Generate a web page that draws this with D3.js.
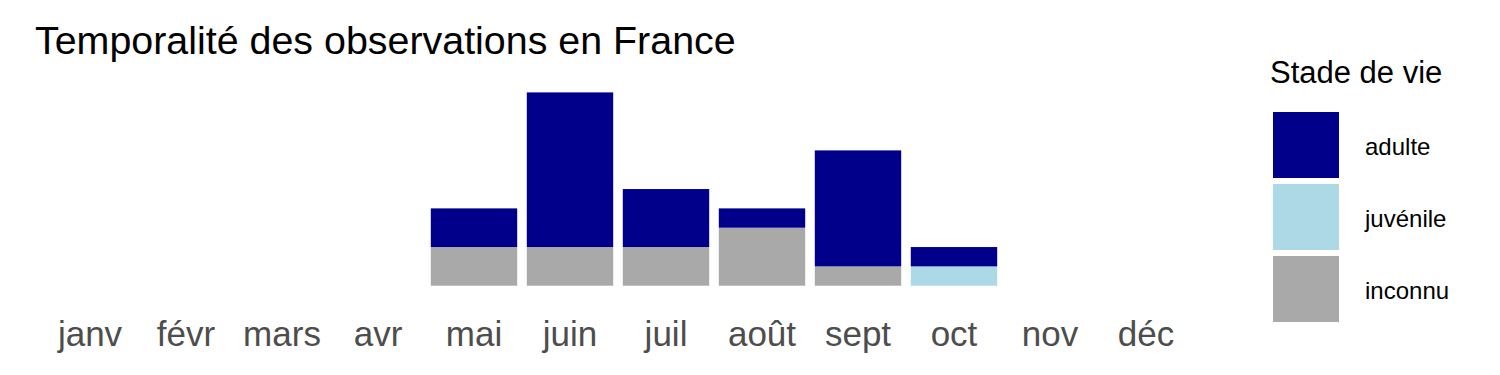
<!DOCTYPE html>
<html>
<head>
<meta charset="utf-8">
<script src="https://cdn.jsdelivr.net/npm/d3@7"></script>
<style>
  body { margin: 0; background: #fff; }
  svg text { font-family: "Liberation Sans", Arial, sans-serif; }
</style>
</head>
<body>
<div id="chart"></div>
<script>
// data
var months = ["janv", "févr", "mars", "avr", "mai", "juin", "juil", "août", "sept", "oct", "nov", "déc"];
var stages = ["adulte", "juvénile", "inconnu"];
var adulte   = [0, 0, 0, 0, 2, 8, 3, 1, 6, 1, 0, 0];
var juvenile = [0, 0, 0, 0, 0, 0, 0, 0, 0, 1, 0, 0];
var inconnu  = [0, 0, 0, 0, 2, 2, 2, 3, 1, 0, 0, 0];
var colors = ["#00008b", "#add8e6", "#a9a9a9"];

var width = 1500, height = 375;

var rows = months.map(function(m, i){
    return {month: m, "adulte": adulte[i], "juvénile": juvenile[i], "inconnu": inconnu[i]};
});

// stack order: inconnu at bottom, then juvénile, then adulte
var stack = d3.stack().keys(stages.slice().reverse());
var series = stack(rows);

var xScale = d3.scaleBand()
    .domain(months)
    .range([42, 1194])
    .paddingInner(0.1)
    .paddingOuter(0.05);

var yScale = d3.scaleLinear()
    .domain([0, 10])
    .range([285.7, 92.4]);

var cScale = d3.scaleOrdinal().domain(stages).range(colors);

var svg = d3.select("#chart").append("svg")
    .attr("width", width)
    .attr("height", height);

svg.append("text")
    .attr("x", 35)
    .attr("y", 54)
    .attr("font-size", "39.4px")
    .attr("fill", "#000")
    .text("Temporalité des observations en France");

var layers = svg.selectAll("g.layer").data(series)
    .enter().append("g")
    .attr("class", "layer")
    .attr("fill", d => cScale(d.key));

layers.selectAll("rect").data(d => d)
    .enter().append("rect")
    .attr("x", d => xScale(d.data.month))
    .attr("width", xScale.bandwidth())
    .attr("y", d => yScale(d[1]))
    .attr("height", d => yScale(d[0]) - yScale(d[1]));

var xAxis = d3.axisBottom(xScale).tickSize(0).tickPadding(0);
var gx = svg.append("g")
    .attr("transform", "translate(0,346)")
    .call(xAxis);
gx.select(".domain").remove();
gx.selectAll("text")
    .attr("font-size", "35px")
    .attr("fill", "#4d4d4d")
    .attr("dy", "0")
    .attr("font-family", "Liberation Sans, Arial, sans-serif");

// legend
var legend = svg.append("g");
legend.append("text")
    .attr("x", 1270)
    .attr("y", 83)
    .attr("font-size", "31px")
    .attr("fill", "#000")
    .text("Stade de vie");

var keys = legend.selectAll("g.key").data(stages)
    .enter().append("g")
    .attr("class", "key")
    .attr("transform", (d, i) => "translate(1273," + (112 + i * 72) + ")");
keys.append("rect")
    .attr("width", 66)
    .attr("height", 66)
    .attr("fill", d => cScale(d));
keys.append("text")
    .attr("x", 92)
    .attr("y", 35)
    .attr("dy", "0.35em")
    .attr("font-size", "24px")
    .attr("fill", "#000")
    .text(d => d);
</script>
</body>
</html>
